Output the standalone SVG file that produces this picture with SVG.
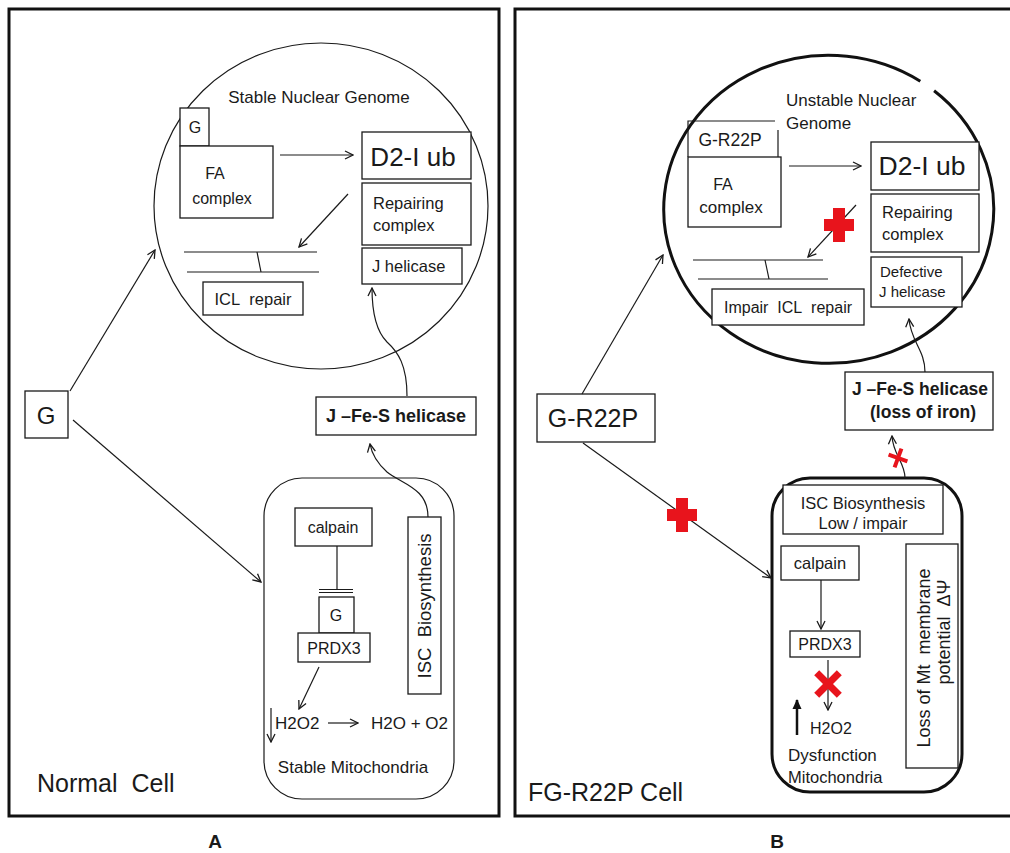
<svg xmlns="http://www.w3.org/2000/svg" width="1010" height="853" viewBox="0 0 1010 853">
<style>
.t{font-family:"Liberation Sans",Arial,sans-serif;fill:#1a1a1a}
.b{font-weight:bold}
.m{text-anchor:middle}
.box{fill:#fff;stroke:#1a1a1a;stroke-width:1.3}
.ln{fill:none;stroke:#1a1a1a;stroke-width:1.2}
.thick{fill:none;stroke:#111;stroke-width:3}
.frame{fill:none;stroke:#111;stroke-width:3}
.red{fill:#e8141c}
</style>
<defs>
<marker id="arr" viewBox="0 0 10 10" refX="9" refY="5" markerWidth="10" markerHeight="10" markerUnits="userSpaceOnUse" orient="auto">
<path d="M1,1 L9,5 L1,9" fill="none" stroke="#1a1a1a" stroke-width="1.3"/>
</marker>
<marker id="arrF" viewBox="0 0 10 10" refX="9" refY="5" markerWidth="10" markerHeight="11" markerUnits="userSpaceOnUse" orient="auto">
<path d="M0,0.5 L10,5 L0,9.5 z" fill="#111"/>
</marker>
</defs>

<rect class="frame" x="9" y="9" width="490" height="807"/>
<rect class="frame" x="515" y="9" width="498" height="807"/>
<text class="t b m" x="215" y="848" font-size="19">A</text>
<text class="t b m" x="777" y="848" font-size="19">B</text>

<g id="nucleusA">
<ellipse class="ln" cx="321" cy="206" rx="167" ry="163"/>
<text class="t m" x="319" y="103" font-size="17">Stable Nuclear Genome</text>
</g>
<g id="gSmallA"><rect class="box" x="180" y="108" width="29" height="38"/><text class="t m" x="195" y="133" font-size="16">G</text></g>
<g id="faA"><rect class="box" x="180" y="146" width="93" height="72"/><text class="t m" x="215" y="179" font-size="16">FA</text><text class="t m" x="222" y="204" font-size="16">complex</text></g>
<g id="d2A"><rect class="box" x="362" y="132" width="109" height="47"/><text class="t m" x="413" y="166" font-size="26">D2-I ub</text></g>
<g id="repA"><rect class="box" x="362" y="183" width="109" height="62"/><text class="t" x="373" y="209" font-size="16.5">Repairing</text><text class="t" x="373" y="231" font-size="16.5">complex</text></g>
<g id="jhelA"><rect class="box" x="362" y="248" width="100" height="36"/><text class="t" x="372" y="272" font-size="16.5">J helicase</text></g>
<g id="dnaA"><line class="ln" x1="184" y1="252" x2="317" y2="252"/><line class="ln" x1="187" y1="272" x2="319" y2="272"/><line class="ln" x1="257" y1="252" x2="261" y2="272"/></g>
<g id="iclA"><rect class="box" x="203" y="282" width="100" height="33"/><text class="t m" x="253" y="305" font-size="16.5">ICL&#160; repair</text></g>
<g id="jfesA"><rect class="box" x="316" y="397" width="160" height="38"/><text class="t b m" x="396" y="422" font-size="18">J –Fe-S helicase</text></g>
<g id="gA"><rect class="box" x="25" y="391" width="43" height="47"/><text class="t m" x="46" y="424" font-size="24">G</text></g>
<g id="mitoA">
<rect class="ln" x="264" y="478" width="190" height="321" rx="38"/>
<text class="t" x="275" y="729" font-size="17">H2O2</text>
<text class="t" x="371" y="729" font-size="17">H2O + O2</text>
<text class="t m" x="353" y="773" font-size="17">Stable Mitochondria</text>
</g>
<g id="calpainA"><rect class="box" x="295" y="508" width="77" height="38"/><text class="t m" x="333" y="533" font-size="16">calpain</text></g>
<g id="gMitoA"><rect class="box" x="319" y="597" width="35" height="36"/><text class="t m" x="336" y="621" font-size="16">G</text></g>
<g id="prdxA"><rect class="box" x="298" y="633" width="72" height="29"/><text class="t m" x="334" y="654" font-size="16">PRDX3</text></g>
<g id="iscA"><rect class="box" x="408" y="517" width="33" height="177"/><text class="t m" transform="translate(431,606) rotate(-90)" font-size="18.5">ISC&#160; Biosynthesis</text></g>
<text class="t" x="37" y="792" font-size="25">Normal&#160; Cell</text>

<g id="nucleusB">
<path class="thick" d="M934.1,90.8 A165,154 0 1 1 920.3,81.2"/>
<text class="t" x="786" y="106" font-size="17">Unstable Nuclear</text>
<text class="t" x="786" y="129" font-size="17">Genome</text>
</g>
<g id="gSmallB"><path class="ln" d="M688,157 L688,121 L775,121 M778,130 L778,157"/><text class="t m" x="730" y="146" font-size="17.5">G-R22P</text></g>
<g id="faB"><rect class="box" x="688" y="157" width="93" height="70"/><text class="t m" x="723" y="190" font-size="16">FA</text><text class="t m" x="731" y="213" font-size="17">complex</text></g>
<g id="d2B"><rect class="box" x="871" y="142" width="108" height="48"/><text class="t m" x="922" y="175" font-size="26.5">D2-I ub</text></g>
<g id="repB"><rect class="box" x="871" y="194" width="108" height="58"/><text class="t" x="882" y="218" font-size="16.5">Repairing</text><text class="t" x="882" y="240" font-size="16.5">complex</text></g>
<g id="defB"><rect class="box" x="871" y="257" width="91" height="50"/><text class="t" x="880" y="277" font-size="15">Defective</text><text class="t" x="879" y="297" font-size="15">J helicase</text></g>
<g id="dnaB"><line class="ln" x1="693" y1="260" x2="823" y2="260"/><line class="ln" x1="698" y1="279" x2="828" y2="279"/><line class="ln" x1="765" y1="260" x2="769" y2="279"/></g>
<g id="iclB"><rect class="box" x="712" y="289" width="152" height="36"/><text class="t m" x="788" y="313" font-size="16">Impair&#160; ICL&#160; repair</text></g>
<g id="jfesB"><rect class="box" x="845" y="372" width="148" height="58"/><text class="t b m" x="920" y="395" font-size="17.5">J –Fe-S helicase</text><text class="t b m" x="923" y="418" font-size="17.5">(loss of iron)</text></g>
<g id="gB"><rect class="box" x="537" y="394" width="118" height="48"/><text class="t m" x="593" y="427" font-size="25">G-R22P</text></g>
<g id="mitoB">
<rect class="thick" x="772" y="478" width="190" height="314" rx="38"/>
<text class="t" x="810" y="734" font-size="16">H2O2</text>
<text class="t" x="788" y="761" font-size="17">Dysfunction</text>
<text class="t" x="788" y="783" font-size="16.5">Mitochondria</text>
</g>
<g id="iscB"><rect class="box" x="783" y="485" width="160" height="49"/><text class="t m" x="863" y="509" font-size="16.5">ISC Biosynthesis</text><text class="t m" x="863" y="529" font-size="16.5">Low / impair</text></g>
<g id="calpainB"><rect class="box" x="781" y="546" width="78" height="34"/><text class="t m" x="820" y="569" font-size="16.5">calpain</text></g>
<g id="prdxB"><rect class="box" x="790" y="631" width="70" height="26"/><text class="t m" x="825" y="650" font-size="16">PRDX3</text></g>
<g id="lossB"><rect class="box" x="906" y="544" width="52" height="224"/><text class="t m" transform="translate(930,658) rotate(-90)" font-size="18">Loss of Mt&#160; membrane</text><text class="t m" transform="translate(950,632) rotate(-90)" font-size="18">potential&#160; ΔΨ</text></g>
<text class="t" x="528" y="801" font-size="25">FG-R22P Cell</text>

<g id="connectors">
<line class="ln" x1="280" y1="155" x2="353" y2="155" marker-end="url(#arr)"/>
<line class="ln" x1="348" y1="194" x2="299" y2="247" marker-end="url(#arr)"/>
<path class="ln" d="M407,396 C407,365 398,352 387,342 C377,332 372,315 372,288" marker-end="url(#arr)"/>
<path class="ln" d="M428,517 C428,488 402,484 387,472 C377,463 372,455 370,444" marker-end="url(#arr)"/>
<line class="ln" x1="70" y1="391" x2="155" y2="250" marker-end="url(#arr)"/>
<line class="ln" x1="73" y1="420" x2="261" y2="582" marker-end="url(#arr)"/>
<line class="ln" x1="337" y1="546" x2="337" y2="590"/>
<line class="ln" x1="319" y1="589.5" x2="353" y2="589.5"/>
<line class="ln" x1="319" y1="592.5" x2="353" y2="592.5"/>
<line class="ln" x1="319" y1="667" x2="299" y2="709" marker-end="url(#arr)"/>
<line class="ln" x1="271" y1="708" x2="271" y2="742" marker-end="url(#arr)"/>
<line class="ln" x1="328" y1="723" x2="358" y2="723" marker-end="url(#arr)"/>

<line class="ln" x1="789" y1="166" x2="861" y2="166" marker-end="url(#arr)"/>
<line class="ln" x1="856" y1="205" x2="808" y2="257" marker-end="url(#arr)"/>
<path class="ln" d="M925,372 C925,350 911,342 909,319" marker-end="url(#arr)"/>
<path class="ln" d="M905,478 C905,462 893,455 892,436" marker-end="url(#arr)"/>
<line class="ln" x1="582" y1="394" x2="663" y2="255" marker-end="url(#arr)"/>
<line class="ln" x1="583" y1="443" x2="771" y2="578" marker-end="url(#arr)"/>
<line class="ln" x1="821" y1="580" x2="821" y2="629" marker-end="url(#arr)"/>
<line class="ln" x1="828" y1="660" x2="828" y2="710" marker-end="url(#arr)"/>
<line x1="797" y1="735" x2="797" y2="700" stroke="#111" stroke-width="2.5" marker-end="url(#arrF)"/>

<g id="blocks">
<rect class="red" x="824" y="219" width="30" height="12"/><rect class="red" x="833" y="208" width="12" height="34"/>
<rect class="red" x="667" y="509" width="30" height="12"/><rect class="red" x="676" y="498" width="12" height="34"/>
<g transform="translate(898,458) rotate(20)"><rect class="red" x="-10" y="-2" width="20" height="4"/><rect class="red" x="-2" y="-10" width="4" height="20"/></g>
<g transform="translate(828,684) rotate(45)"><rect class="red" x="-16" y="-3.5" width="32" height="7"/><rect class="red" x="-3.5" y="-16" width="7" height="32"/></g>
</g>
</g>
</svg>
